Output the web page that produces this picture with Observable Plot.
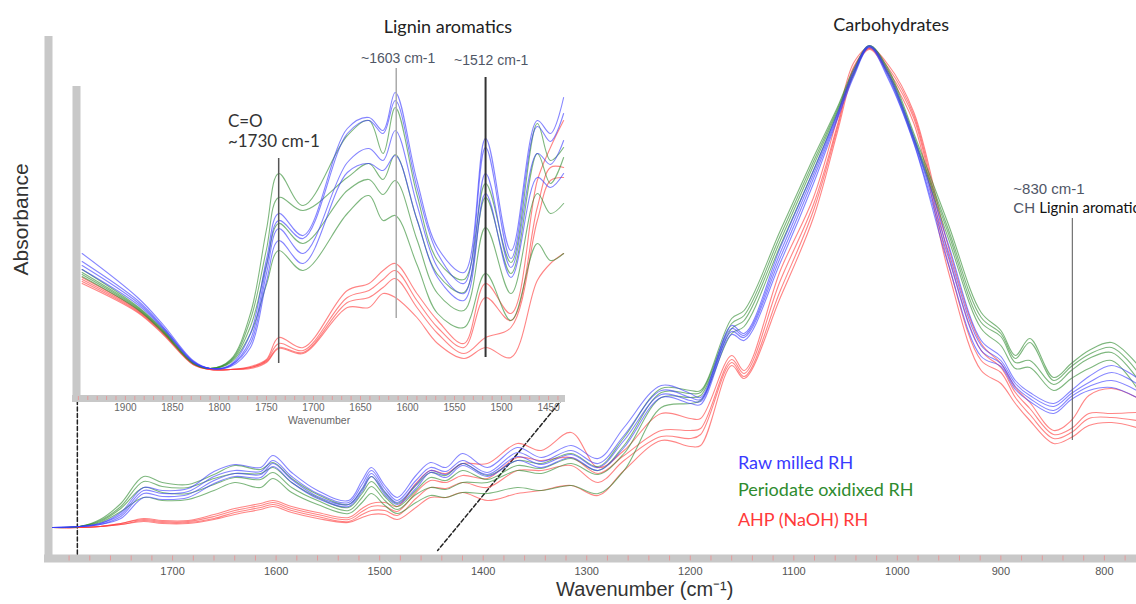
<!DOCTYPE html>
<html>
<head>
<meta charset="utf-8">
<script src="https://cdn.jsdelivr.net/npm/d3@7"></script>
<script src="https://cdn.jsdelivr.net/npm/@observablehq/plot@0.6"></script>
<style>
  body { margin: 0; background: #fff; }
  #wrap { position: relative; width: 1136px; height: 604px; overflow: hidden; background: #fff; }
  #wrap svg { position: absolute; left: 0; top: 0; }
</style>
</head>
<body>
<div id="wrap"></div>
<script>
// ---------- Main spectrum (wavenumber, cm-1) ----------
const wnMain = [1816,1790,1770,1750,1728,1710,1685,1660,1640,1615,1603,1585,1560,1530,1517,1508,1495,1483,1465,1451,1436,1420,1396,1367,1344,1315,1289,1264,1228,1200,1190,1160,1148,1113,1081,1058,1042,1027,1009,984,951,919,900,886,872,849,832,815,793,769];

// absorbance (arbitrary units) for each replicate
const rawMilledMain = [
  [0,1,4,15,40,37,39,56,63,60,72,55,37,27,47,60,42,30,52,65,60,74,60,80,70,82,69,100,142,134,130,202,194,280,357,414,457,482,455,390,284,187,171,147,135,124,137,151,162,150],
  [0,1,4,13,37,34,36,51,57,56,67,51,34,25,43,57,39,27,47,60,56,67,55,75,66,77,64,92,137,130,128,199,192,275,353,412,455,481,453,388,277,182,167,144,132,121,134,145,155,144],
  [0,1,3,11,34,31,33,47,54,53,64,48,31,23,39,54,36,25,43,57,53,64,53,71,63,73,60,87,133,127,126,196,190,270,349,410,453,481,451,385,271,177,164,141,129,117,131,141,147,137],
  [0,1,3,9,30,28,30,44,51,50,61,45,29,21,36,51,33,23,39,55,50,62,51,67,60,70,57,80,130,124,123,193,187,265,344,408,451,480,449,384,264,171,161,138,126,114,128,137,140,130]
];
const periodateMain = [
  [0,1,8,24,51,45,43,53,62,58,65,49,33,23,38,51,35,24,42,55,52,64,52,67,64,74,61,90,139,137,137,209,217,297,370,420,459,482,459,394,304,215,197,172,189,150,164,177,185,164],
  [0,1,7,21,46,41,40,49,54,54,60,45,30,20,34,46,31,21,37,50,47,57,48,62,59,69,57,82,135,134,135,204,212,292,366,418,457,482,457,391,299,210,194,169,185,147,161,173,180,157],
  [0,1,6,19,40,35,34,43,50,48,55,40,27,17,30,41,27,18,33,40,38,45,45,57,54,64,53,74,130,130,132,199,207,287,362,416,455,481,455,389,295,205,191,165,167,143,157,169,175,150],
  [0,1,5,16,30,27,28,37,45,40,49,35,23,14,25,34,22,14,25,32,30,35,34,40,37,42,34,57,120,124,127,194,201,282,357,414,453,481,453,387,290,199,182,159,160,137,149,159,167,140]
];
const ahpMain = [
  [0,0,1,4,9,7,7,13,19,24,27,21,15,10,19,24,25,21,44,57,54,64,64,84,77,95,60,77,114,109,109,172,157,257,330,409,465,480,463,415,282,184,164,140,125,97,107,132,139,130],
  [0,0,1,4,8,6,6,11,17,22,25,19,13,8,16,21,21,16,35,47,45,52,49,70,67,70,54,72,97,97,99,168,154,247,323,402,461,479,460,412,274,177,160,135,119,93,99,114,114,115],
  [0,0,1,3,7,5,5,9,15,20,23,17,11,6,13,17,17,12,29,40,39,45,40,57,57,62,45,67,91,89,93,165,151,237,317,399,459,479,457,409,265,167,155,130,113,89,95,109,110,107],
  [0,0,1,3,6,4,4,8,13,18,21,15,9,5,10,13,13,8,20,30,30,35,27,34,37,42,32,57,87,81,82,162,149,230,310,395,455,478,454,404,257,157,144,124,107,84,90,102,105,100]
];

// ---------- Inset (1950-1430 cm-1, own scaling) ----------
const wnInset = [1946,1887,1860,1828,1810,1788,1767,1750,1737,1711,1664,1641,1626,1613,1590,1568,1540,1517,1490,1462,1448,1434];
const rawMilledInset = [
  [116,72,45,9,1,5,36,110,156,134,241,252,239,277,189,122,97,231,119,249,236,272],
  [108,69,43,8,1,4,30,103,149,131,236,249,236,269,182,116,86,222,111,243,228,256],
  [104,67,42,8,1,4,26,96,141,116,207,221,209,239,165,102,76,196,102,216,205,229],
  [100,65,41,7,1,3,22,88,129,106,197,206,199,214,150,92,69,176,92,192,182,196]
];
const periodateInset = [
  [100,63,40,7,1,10,56,140,196,164,234,249,216,262,175,109,90,186,107,246,209,222],
  [97,62,39,7,1,9,50,120,172,159,192,206,190,215,150,95,77,172,96,216,186,212],
  [95,61,38,6,1,8,43,105,146,126,179,190,175,189,130,76,59,142,76,176,156,166],
  [93,60,37,6,1,7,36,85,119,99,156,174,149,154,105,56,42,96,49,126,109,116]
];
const ahpInset = [
  [92,60,38,6,0,0,3,10,32,22,79,86,99,106,76,49,26,86,56,189,222,249],
  [90,59,37,6,0,0,2,9,26,19,72,79,90,99,69,42,22,72,49,162,202,202],
  [88,58,36,5,0,0,2,8,22,17,67,72,82,91,62,36,16,32,42,149,189,192],
  [86,57,35,5,0,0,1,7,21,16,62,62,76,72,52,26,11,22,12,89,106,116]
];

// ---------- Labels ----------
const sampleNames = ["Raw milled RH", "Periodate oxidixed RH", "AHP (NaOH) RH"];
const sampleColors = ["#3a3aff", "#2e8b2e", "#ff3a3a"];
const mainTicks = [1700,1600,1500,1400,1300,1200,1100,1000,900,800];
const insetTicks = [1900,1850,1800,1750,1700,1650,1600,1550,1500,1450];
const zoomLinks = [
  {id: "a", wn: 1792, a: 127}, {id: "a", wn: 1792, a: -28},
  {id: "b", wn: 1323, a: 129}, {id: "b", wn: 1444, a: -23}
];

// ---------- Build tables ----------
function toRows(wn, sets) {
  const out = [];
  sets.forEach(([name, curves]) => curves.forEach((vals, k) => {
    if (vals.length !== wn.length) throw new Error(name + " curve " + k + " has " + vals.length + " values, expected " + wn.length);
    vals.forEach((a, j) => out.push({wn: wn[j], a, sample: name, id: name + k}));
  }));
  return out;
}
const drawOrder = (m, p, r) => [[sampleNames[2], m], [sampleNames[1], p], [sampleNames[0], r]];
const mainRows = toRows(wnMain, drawOrder(ahpMain, periodateMain, rawMilledMain));
const insetRows = toRows(wnInset, drawOrder(ahpInset, periodateInset, rawMilledInset));

const gray = "#c8c8c8";
const colorScale = {domain: sampleNames, range: sampleColors};
const mainXDomain = [1816, 769];
const mainYDomain = [-31, 495];
const insetXDomain = [1952, 1432];
const insetYDomain = [-29, 287];

const minorMain = d3.range(1800, 770, -20);
const minorInset = d3.range(1950, 1435, -10);

// ---------- Main chart ----------
const mainPlot = Plot.plot({
  width: 1136, height: 604,
  marginLeft: 52, marginRight: 0, marginTop: 32, marginBottom: 46,
  style: {background: "transparent", fontSize: "11px", fontFamily: "'Liberation Sans', Arial, sans-serif", color: "#555"},
  x: {domain: mainXDomain, ticks: mainTicks, tickFormat: d => String(d), tickSize: 0, tickPadding: 9, label: null},
  y: {domain: mainYDomain, axis: null},
  color: colorScale,
  marks: [
    Plot.ruleY([mainYDomain[0]], {x1: mainXDomain[0], x2: mainXDomain[1], stroke: gray, strokeWidth: 8, insetLeft: -8}),
    Plot.ruleX([mainXDomain[0]], {y1: mainYDomain[0], y2: mainYDomain[1], stroke: gray, strokeWidth: 8, dx: -4, insetBottom: -4}),
    Plot.ruleX(minorMain, {y1: mainYDomain[0] - 2.5, y2: mainYDomain[0] + 2.5, stroke: "#e59a9a", strokeWidth: 1}),
    Plot.line(zoomLinks, {x: "wn", y: "a", z: "id", stroke: "#222", strokeWidth: 1.5, strokeDasharray: "4,2.5"}),
    Plot.line(mainRows, {x: "wn", y: "a", z: "id", stroke: "sample", strokeWidth: 1.1, strokeOpacity: 0.62, curve: "catmull-rom"}),
    Plot.ruleX([831], {y1: 87, y2: 309, stroke: "#555", strokeWidth: 1}),
    Plot.text(["Carbohydrates"], {x: 1006, y: 502, fontFamily: "Lato, 'Open Sans', sans-serif", fontSize: 18, fill: "#222"}),
    Plot.text(["~830 cm-1"], {x: 888, y: 338, textAnchor: "start", fontFamily: "'Liberation Sans', Arial, sans-serif", fontSize: 15, fill: "#4f5666"}),
    Plot.text(["CH"], {x: 888, y: 319, textAnchor: "start", fontFamily: "'Liberation Sans', Arial, sans-serif", fontSize: 15, fill: "#4f5666"}),
    Plot.text(["Lignin aromatics"], {x: 863, y: 319, textAnchor: "start", fontFamily: "Lato, 'Open Sans', sans-serif", fontSize: 15, fill: "#111"}),
    Plot.text(sampleNames, {x: 1154, y: (d, i) => [64, 37, 7][i], text: d => d, fill: d => d, textAnchor: "start", fontFamily: "Lato, 'Open Sans', sans-serif", fontSize: 18}),
    Plot.text(["Absorbance"], {frameAnchor: "left", dx: -31, y: 252, rotate: -90, fontSize: 21, fill: "#333"}),
    Plot.text(["Wavenumber (cm\u207B\u00B9)"], {x: 1244, frameAnchor: "bottom", dy: 37, fontSize: 20, fill: "#333"})
  ]
});

// ---------- Inset chart ----------
const insetPlot = Plot.plot({
  width: 1136, height: 604,
  marginLeft: 76, marginRight: 571, marginTop: 82, marginBottom: 206,
  style: {background: "transparent", fontSize: "10px", fontFamily: "'Liberation Sans', Arial, sans-serif", color: "#666"},
  x: {domain: insetXDomain, ticks: insetTicks, tickFormat: d => String(d), tickSize: 0, tickPadding: 5, label: null},
  y: {domain: insetYDomain, axis: null},
  color: colorScale,
  marks: [
    Plot.ruleY([insetYDomain[0]], {x1: insetXDomain[0], x2: insetXDomain[1], stroke: gray, strokeWidth: 7, insetLeft: -4}),
    Plot.ruleX([insetXDomain[0]], {y1: insetYDomain[0], y2: insetYDomain[1], stroke: gray, strokeWidth: 8, insetBottom: -4}),
    Plot.ruleX(minorInset, {y1: insetYDomain[0] - 2, y2: insetYDomain[0] + 2, stroke: "#e59a9a", strokeWidth: 1}),
    Plot.line(insetRows, {x: "wn", y: "a", z: "id", stroke: "sample", strokeWidth: 1.1, strokeOpacity: 0.62, curve: "catmull-rom"}),
    Plot.ruleX([1737], {y1: 6, y2: 211, stroke: "#555", strokeWidth: 1.5}),
    Plot.ruleX([1612], {y1: 51, y2: 301, stroke: "#aaa", strokeWidth: 1.5}),
    Plot.ruleX([1517], {y1: 12, y2: 292, stroke: "#333", strokeWidth: 2}),
    Plot.text(["C=O"], {x: 1791, y: 248, textAnchor: "start", fontFamily: "Lato, 'Open Sans', sans-serif", fontSize: 17, fill: "#333"}),
    Plot.text(["~1730 cm-1"], {x: 1791, y: 228, textAnchor: "start", fontFamily: "Lato, 'Open Sans', sans-serif", fontSize: 17, fill: "#333"}),
    Plot.text(["Lignin aromatics"], {x: 1557, y: 342, fontFamily: "Lato, 'Open Sans', sans-serif", fontSize: 18, fill: "#222"}),
    Plot.text(["~1603 cm-1"], {x: 1610, y: 311, fontSize: 14, fill: "#4f5666"}),
    Plot.text(["~1512 cm-1"], {x: 1511, y: 309, fontSize: 14, fill: "#4f5666"}),
    Plot.text(["Wavenumber"], {x: 1694, frameAnchor: "bottom", dy: 25, fontSize: 10.5, fill: "#666"})
  ]
});

const wrap = document.getElementById("wrap");
wrap.appendChild(mainPlot);
wrap.appendChild(insetPlot);
</script>
</body>
</html>
